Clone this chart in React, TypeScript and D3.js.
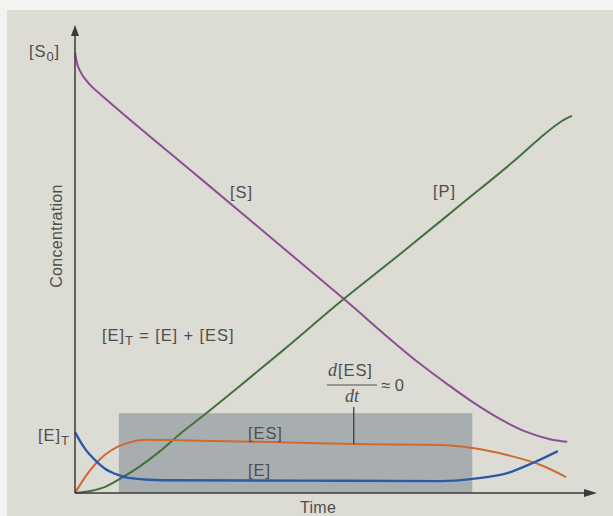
import React from "react";
import * as d3 from "d3";

// ---- data (time units 0..100, concentration units 0..100 where [S0] = 100) ----
const sTime = [0, 0.19, 0.38, 0.96, 1.92, 3.26, 4.79, 23.95, 51.3, 66.1, 71.3, 76.2, 81.4, 86.6, 91.0, 94.3];
const sValues = [100, 98.6, 97.5, 95.7, 93.9, 92.1, 90.5, 71.4, 44.2, 29.3, 24.7, 20.6, 16.8, 13.8, 12.2, 11.6];

const pTime = [0, 2.9, 5.8, 8.6, 12.5, 16.3, 20.1, 24.0, 30.7, 39.9, 51.3, 62.3, 73.8, 83.9, 89.1, 92.1, 93.9, 95.2];
const pValues = [0, 0.45, 1.4, 3.2, 6.1, 9.5, 13.4, 17.0, 23.4, 32.4, 43.8, 54.2, 65.3, 75.1, 80.5, 83.4, 84.8, 85.5];

const esTime = [0, 1, 2, 3, 4, 5, 6, 7, 8, 9, 10, 12, 14, 18, 35.4, 53.3, 69.9, 76.2, 82.8, 89.1, 94.1];
const esValues = [0, 1.9, 3.7, 5.3, 6.7, 7.9, 8.9, 9.7, 10.4, 10.9, 11.3, 11.9, 12.1, 12.0, 11.6, 11.1, 10.9, 10.2, 8.6, 6.4, 3.6];

const eTime = [0, 1, 2, 3, 4, 5, 6, 7, 8, 9, 10, 12, 14, 17, 43.1, 69.9, 76.2, 82.8, 87.7, 92.5];
const eValues = [13.8, 11.7, 9.9, 8.5, 7.3, 6.2, 5.3, 4.7, 4.2, 3.8, 3.5, 3.2, 3.0, 2.9, 2.8, 2.7, 3.2, 4.5, 6.8, 9.5];

const steadyStart = 8.4;
const steadyEnd = 76.1;
const steadyTop = 18.1;
const pointerTime = 53.4;
const pointerTop = 19.5;

const W = 613;
const H = 516;

const FONT = "'Liberation Sans', Arial, Helvetica, sans-serif";
const SERIF = "'Liberation Serif', 'DejaVu Serif', serif";
const TEXT = "#4e4e4e";
const AXIS = "#3a3a3a";

export default function App() {
  const x = d3.scaleLinear().domain([0, 100]).range([75, 597]);
  const y = d3.scaleLinear().domain([0, 100]).range([493, 52]);

  const line = d3
    .line<[number, number]>()
    .x((d) => x(d[0]))
    .y((d) => y(d[1]))
    .curve(d3.curveMonotoneX);

  const zip = (a: number[], b: number[]) => a.map((t, i) => [t, b[i]] as [number, number]);

  const x0 = x(0);
  const y0 = y(0);
  const yTop = 25;
  const xEnd = 597;

  const esAtPointer = d3.scaleLinear().domain(esTime).range(esValues)(pointerTime);

  return (
    <svg
      width={W}
      height={H}
      style={{ position: "absolute", left: 0, top: 0, display: "block" }}
      xmlns="http://www.w3.org/2000/svg"
    >
      <rect x={0} y={0} width={W} height={H} fill="#f3f3f2" />
      <rect x={7} y={10} width={W - 7} height={H - 10} fill="#dcdcd4" />

      {/* steady-state shaded region */}
      <rect
        x={x(steadyStart)}
        y={y(steadyTop)}
        width={x(steadyEnd) - x(steadyStart)}
        height={y0 - y(steadyTop)}
        fill="#a8aeb0"
      />

      {/* curves */}
      <path d={line(zip(sTime, sValues)) || ""} fill="none" stroke="#8c4f92" strokeWidth={2} />
      <path d={line(zip(pTime, pValues)) || ""} fill="none" stroke="#44703f" strokeWidth={2} />
      <path d={line(zip(esTime, esValues)) || ""} fill="none" stroke="#cf6a2e" strokeWidth={2} />
      <path d={line(zip(eTime, eValues)) || ""} fill="none" stroke="#2b5aa8" strokeWidth={2.4} />

      {/* pointer */}
      <line
        x1={x(pointerTime)}
        x2={x(pointerTime)}
        y1={y(pointerTop)}
        y2={y(esAtPointer)}
        stroke="#333"
        strokeWidth={1.2}
      />

      {/* axes */}
      <line x1={x0} y1={y0} x2={x0} y2={yTop + 8} stroke={AXIS} strokeWidth={1.5} />
      <path d={`M${x0},${yTop} L${x0 - 4},${yTop + 11} L${x0 + 4},${yTop + 11} Z`} fill={AXIS} />
      <line x1={x0} y1={y0} x2={xEnd - 8} y2={y0} stroke={AXIS} strokeWidth={1.5} />
      <path d={`M${xEnd},${y0} L${xEnd - 13},${y0 - 4} L${xEnd - 13},${y0 + 4} Z`} fill={AXIS} />

      {/* texts */}
      <g fontFamily={FONT} fill={TEXT} fontSize={16.5} letterSpacing={0.9}>
        <text x={29} y={57}>
          [S<tspan fontSize={13} dy={4}>0</tspan>
          <tspan dy={-4}>]</tspan>
        </text>
        <text transform={`translate(62,236) rotate(-90)`} textAnchor="middle" letterSpacing={0.3} fontSize={16}>
          Concentration
        </text>
        <text x={230} y={198}>[S]</text>
        <text x={433} y={197}>[P]</text>
        <text x={102} y={341}>
          [E]<tspan fontSize={13} dy={4}>T</tspan>
          <tspan dy={-4}> = [E] + [ES]</tspan>
        </text>
        <text x={38} y={441}>
          [E]<tspan fontSize={13} dy={4}>T</tspan>
        </text>
        <text x={248} y={439}>[ES]</text>
        <text x={248} y={476}>[E]</text>
        <text x={300} y={513} letterSpacing={0.3} fontSize={16}>Time</text>
      </g>

      {/* d[ES]/dt ≈ 0 */}
      <g fill={TEXT}>
        <text x={328} y={376} fontSize={18}>
          <tspan fontFamily={SERIF} fontStyle="italic">d</tspan>
          <tspan fontFamily={FONT} fontSize={16.5} letterSpacing={0.9} dx={1}>[ES]</tspan>
        </text>
        <line x1={327} x2={377} y1={385} y2={385} stroke={TEXT} strokeWidth={1.2} />
        <text x={352} y={402} fontSize={18} fontFamily={SERIF} fontStyle="italic" textAnchor="middle">
          dt
        </text>
        <text x={381} y={391} fontSize={16.5} fontFamily={FONT}>
          ≈ 0
        </text>
      </g>
    </svg>
  );
}
